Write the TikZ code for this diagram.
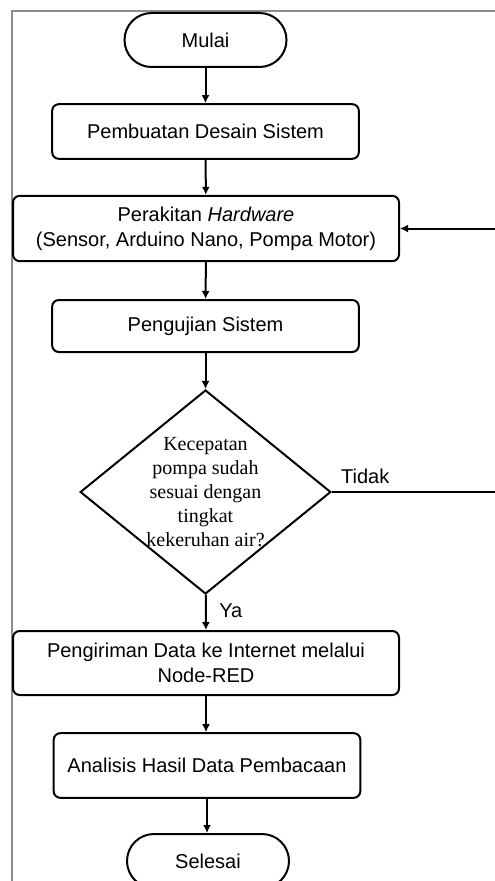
\documentclass[tikz,border=0pt]{standalone}
\usepackage{fontspec}
\setmainfont{Liberation Sans}
\newfontfamily\decfont{Liberation Serif}
\usetikzlibrary{shapes.geometric,arrows.meta}

\begin{document}
\begin{tikzpicture}[x=0.75pt,y=-0.75pt,line width=1.5pt,
        every node/.style={font=\fontsize{15}{18.5}\selectfont},
        proses/.style={draw,rounded corners=5pt,align=center,inner sep=0pt},
        terminal/.style={draw,rounded corners=20.25pt,minimum width=121.5pt,minimum height=40.5pt},
        decision/.style={draw,diamond,minimum width=188pt,minimum height=153pt,inner sep=0pt},
        panah/.style={-{Latex[length=6pt,width=6pt]}}]
        \useasboundingbox (0,0) rectangle (495,881);
        \draw[black!45,line width=1.5pt] (12,920) -- (12,11) -- (530,11);
        \coordinate (balik) at (499,492);
        \node[terminal] (mulai) at (205.5,40) {Mulai};
        \node[proses,minimum width=230pt,minimum height=41pt] (desain) at (205.5,131.5) {Pembuatan Desain Sistem};
        \node[proses,minimum width=289.5pt,minimum height=49pt] (rakit) at (206,228.5) {Perakitan \textit{Hardware}\\(Sensor, Arduino Nano, Pompa Motor)};
        \node[proses,minimum width=230pt,minimum height=39pt] (uji) at (205.5,326) {Pengujian Sistem};
        \node[decision,label={[font=\decfont\fontsize{15}{18}\selectfont,align=center]center:Kecepatan\\pompa sudah\\sesuai dengan\\tingkat\\kekeruhan air?}] (cek) at (205.5,492) {};
        \node[proses,minimum width=289.5pt,minimum height=48pt] (kirim) at (206,663) {Pengiriman Data ke Internet melalui\\Node-RED};
        \node[proses,minimum width=230pt,minimum height=48.5pt] (analisis) at (207,765.5) {Analisis Hasil Data Pembacaan};
        \node[terminal] (selesai) at (208,861) {Selesai};
        \draw[panah] (mulai) -- (desain);
        \draw[panah] (desain) -- (rakit);
        \draw[panah] (rakit) -- (uji);
        \draw[panah] (uji) -- (cek);
        \draw[panah] (cek) -- node[right=6pt,pos=0.45] (ya) {Ya} (kirim);
        \draw[panah] (kirim.south) -- (kirim.south |- analisis.north);
        \draw[panah] (analisis) -- (analisis |- selesai.north);
        \draw[panah] (cek.east) -- node[above=2pt,pos=0.2] (tidak) {Tidak} (balik) |- (rakit.east);
    \end{tikzpicture}
\end{document}
